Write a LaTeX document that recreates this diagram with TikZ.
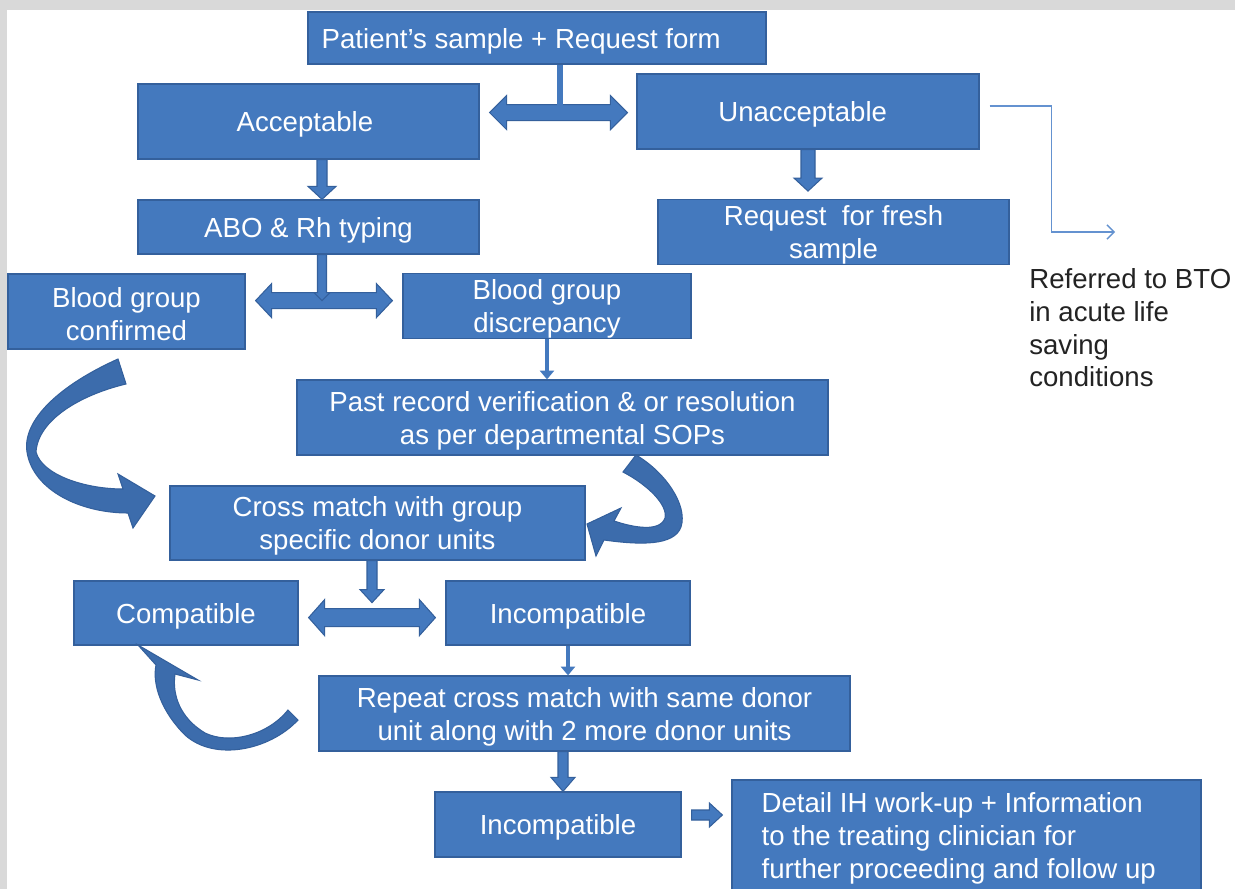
\documentclass[tikz,border=0pt]{standalone}
\usepackage{fontspec}
\setmainfont{Liberation Sans}
\usetikzlibrary{arrows.meta,calc}
\definecolor{boxblue}{RGB}{68,121,190}
\definecolor{boxedge}{RGB}{52,96,156}
\definecolor{curvblue}{RGB}{60,108,172}
\definecolor{framegrey}{RGB}{217,217,217}
\definecolor{thinblue}{RGB}{100,146,208}
\definecolor{reftext}{RGB}{35,35,35}
\newcommand\boxfont{\fontsize{15.7pt}{18.7pt}\selectfont}
\newcommand\mkbox[6]{\node[box, minimum width={(#4-#2)*0.02cm}, minimum height={(#5-#3)*0.02cm}] (#1) at ({(#2+#4)/2},{(#3+#5)/2}) {\rule{0pt}{14.8pt}#6};}
% down block arrow: #1 top, #2 tip, #3 shaft half, #4 head half, #5 head length
\newcommand\dnblk[5]{\path[blk] ($#1+(-#3,0)$) -- ($#1+(#3,0)$) -- ($#2+(#3,-#5)$) -- ($#2+(#4,-#5)$) -- #2 -- ($#2+(-#4,-#5)$) -- ($#2+(-#3,-#5)$) -- cycle;}
% right block arrow
\newcommand\rtblk[5]{\path[blk] ($#1+(0,-#3)$) -- ($#2+(-#5,-#3)$) -- ($#2+(-#5,-#4)$) -- #2 -- ($#2+(-#5,#4)$) -- ($#2+(-#5,#3)$) -- ($#1+(0,#3)$) -- cycle;}
% double horizontal block arrow
\newcommand\dblblk[5]{\path[blk] #1 -- ($#1+(#5,-#4)$) -- ($#1+(#5,-#3)$) -- ($#2+(-#5,-#3)$) -- ($#2+(-#5,-#4)$) -- #2 -- ($#2+(-#5,#4)$) -- ($#2+(-#5,#3)$) -- ($#1+(#5,#3)$) -- ($#1+(#5,#4)$) -- cycle;}
\begin{document}
\begin{tikzpicture}[x=0.02cm,y=-0.02cm,
 box/.style={draw=boxedge, line width=0.7pt, fill=boxblue, text=white, align=center, inner sep=0pt, font=\boxfont},
 blk/.style={draw=boxedge, line width=0.6pt, fill=boxblue, line join=miter},
 curv/.style={draw=boxedge, line width=0.6pt, fill=curvblue},
 stem/.style={draw=boxblue, line width=2.3pt},
 thinarrow/.style={draw=thinblue, line width=0.8pt, -{Straight Barb[length=4pt,width=8pt]}}]
\fill[white] (0,0) rectangle (1235,889);
\fill[framegrey] (0,0) rectangle (1235,10);
\fill[framegrey] (0,0) rectangle (7,889);
\useasboundingbox (0,0) rectangle (1235,889);

% boxes
\mkbox{pat}{308}{12}{766}{64}{Patient's sample + Request form\hspace*{18pt}}
\mkbox{acc}{138}{84}{479}{159}{Acceptable\hspace*{4pt}}
\mkbox{unacc}{637}{74}{979}{149}{Unacceptable\hspace*{6pt}}
\mkbox{abo}{138}{200}{479}{254}{ABO \& Rh typing}
\mkbox{req}{658}{200}{1009}{264}{Request~ for fresh\\sample}
\mkbox{bgc}{8}{274}{245}{349}{Blood group\\confirmed}
\mkbox{bgd}{403}{274}{691}{338}{Blood group\\discrepancy}
\mkbox{past}{297}{380}{828}{455}{Past record verification \& or resolution\\as per departmental SOPs}
\mkbox{cross}{170}{486}{585}{560}{Cross match with group\\specific donor units}
\mkbox{comp}{74}{581}{298}{645}{Compatible}
\mkbox{incomp}{446}{581}{690}{645}{Incompatible}
\mkbox{repeat}{319}{676}{850}{751}{Repeat cross match with same donor\\unit along with 2 more donor units}
\mkbox{incompb}{435}{792}{681}{857}{Incompatible}
\mkbox{detail}{732}{780}{1201}{892}{}
\node[font=\boxfont, text=white, align=left, inner sep=0pt, anchor=north west] (detailtxt) at ($(detail.north west)+(30,13)$) {Detail IH work-up + Information\\to the treating clinician for\\further proceeding and follow up};
\node[font=\boxfont, text=reftext, align=left, inner sep=0pt, anchor=north west] (ref) at (1029,268) {Referred to BTO\\in acute life\\saving\\conditions};

% top: sample -> acceptable / unacceptable
\coordinate (m1) at ($(pat.south)+(23,48)$);
\coordinate (d1l) at ($(acc.east |- m1)+(10,0)$);
\coordinate (d1r) at ($(unacc.west |- m1)+(-9,0)$);
\dblblk{(d1l)}{(d1r)}{8}{17}{17}
\draw[stem, line width=3.4pt] ($(pat.south)+(23,0)$) -- ($(m1)+(0,-5)$);

% acceptable -> ABO
\coordinate (a1) at ($(acc.south)+(13.5,0)$);
\coordinate (a2) at ($(abo.north)+(13.5,0)$);
\dnblk{(a1)}{(a2)}{5}{14}{13}

% unacceptable -> request
\coordinate (u2) at ($(unacc.south |- req.north)+(0,-8)$);
\dnblk{(unacc.south)}{(u2)}{7}{14}{13}

% ABO -> confirmed / discrepancy
\coordinate (m2) at ($(abo.south)+(13.5,46)$);
\coordinate (d2l) at ($(bgc.east |- m2)+(10,0)$);
\coordinate (d2r) at ($(bgd.west |- m2)+(-10,0)$);
\dblblk{(d2l)}{(d2r)}{8}{17}{16}
\coordinate (b1) at ($(abo.south)+(13.5,0)$);
\dnblk{(b1)}{(m2)}{4.5}{8}{8}

% discrepancy -> past record
\draw[stem, -{Triangle[length=5pt,width=8pt]}] (bgd.south) -- (bgd.south |- past.north);

% curved arrows
\path[curv] (118,359) .. controls (60,385) and (22,420) .. (27,452) .. controls (33,490) and (80,513) .. (128,513) -- (133,528) -- (155,496) -- (118,474) -- (123,489) .. controls (85,489) and (42,475) .. (36,452) .. controls (38,420) and (80,395) .. (126,384) -- cycle;
\path[curv] (623,472) -- (636,455) .. controls (665,472) and (688,505) .. (681,527) .. controls (674,546) and (640,545) .. (604,540) -- (596,556) -- (587,524) -- (621,508) -- (614,521) .. controls (635,528) and (660,532) .. (665,518) .. controls (668,505) and (648,485) .. (623,472) -- cycle;
\path[curv] (288,710) -- (298,720) .. controls (270,750) and (215,762) .. (185,735) .. controls (162,712) and (152,685) .. (156,665) -- (138,645) -- (198,680) -- (175,674) .. controls (172,695) and (180,718) .. (205,733) .. controls (230,745) and (268,735) .. (288,710) -- cycle;

% cross match -> compatible / incompatible
\coordinate (c1) at ($(cross.south)+(-5.5,0)$);
\coordinate (c2) at ($(c1)+(0,42)$);
\dnblk{(c1)}{(c2)}{5}{12}{13}
\coordinate (m3) at ($(c2)+(0,15)$);
\coordinate (d3l) at ($(comp.east |- m3)+(10,0)$);
\coordinate (d3r) at ($(incomp.west |- m3)+(-10,0)$);
\dblblk{(d3l)}{(d3r)}{9}{18}{16}

% incompatible -> repeat
\draw[stem, -{Triangle[length=5pt,width=8pt]}] (incomp.south) -- (incomp.south |- repeat.north);

% repeat -> incompatible
\coordinate (r1) at ($(repeat.south)+(-21.5,0)$);
\coordinate (r2) at (r1 |- incompb.north);
\dnblk{(r1)}{(r2)}{5}{12}{14}

% incompatible -> detail
\coordinate (s1) at ($(incompb.east)+(10,-9.5)$);
\coordinate (s2) at ($(detail.west |- s1)+(-9,0)$);
\rtblk{(s1)}{(s2)}{5}{12}{13}

% unacceptable -> referred to BTO
\coordinate (uS) at ($(unacc.east)+(10,-5.5)$);
\coordinate (bto) at ($(ref.north west)+(86,-36)$);
\draw[thinarrow] (uS) -- ++(62,0) |- (bto);
\end{tikzpicture}
\end{document}
